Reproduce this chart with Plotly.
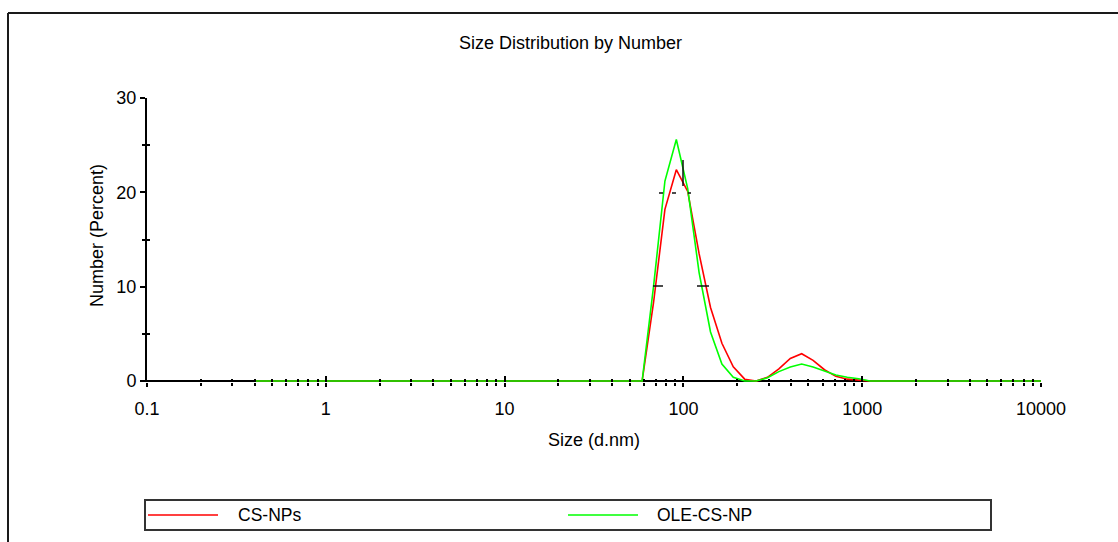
import plotly.graph_objects as go

# Size classes (d.nm) of the number distribution
size_nm = [
    0.4, 0.4632, 0.5365, 0.6213, 0.7195, 0.8332, 0.9649, 1.117, 1.294, 1.499,
    1.736, 2.01, 2.328, 2.696, 3.122, 3.615, 4.187, 4.849, 5.615, 6.503,
    7.531, 8.721, 10.1, 11.7, 13.54, 15.69, 18.17, 21.04, 24.36, 28.21,
    32.67, 37.84, 43.82, 50.75, 58.77, 68.06, 78.82, 91.28, 105.7, 122.4,
    141.8, 164.2, 190.1, 220.2, 255.0, 295.3, 342.0, 396.1, 458.7, 531.2,
    615.1, 712.4, 825.0, 955.4, 1106, 1281, 1484, 1718, 1990, 2305,
    2669, 3091, 3580, 4145, 4801, 5560, 6439, 7456, 8635, 10000,
]

# Number (Percent) per size class
cs_nps = [
    0, 0, 0, 0, 0, 0, 0, 0, 0, 0,
    0, 0, 0, 0, 0, 0, 0, 0, 0, 0,
    0, 0, 0, 0, 0, 0, 0, 0, 0, 0,
    0, 0, 0, 0, 0, 8.3, 18.2, 22.4, 20.1, 13.5,
    7.8, 4.0, 1.5, 0.2, 0.0, 0.4, 1.3, 2.4, 2.9, 2.2,
    1.2, 0.5, 0.2, 0.1, 0, 0, 0, 0, 0, 0,
    0, 0, 0, 0, 0, 0, 0, 0, 0, 0,
]
ole_cs_np = [
    0, 0, 0, 0, 0, 0, 0, 0, 0, 0,
    0, 0, 0, 0, 0, 0, 0, 0, 0, 0,
    0, 0, 0, 0, 0, 0, 0, 0, 0, 0,
    0, 0, 0, 0, 0, 10.0, 21.2, 25.6, 20.4, 11.5,
    5.2, 1.8, 0.4, 0.0, 0.0, 0.35, 1.0, 1.5, 1.8, 1.5,
    1.05, 0.65, 0.4, 0.25, 0, 0, 0, 0, 0, 0,
    0, 0, 0, 0, 0, 0, 0, 0, 0, 0,
]

series_names = ["CS-NPs", "OLE-CS-NP"]
series_colors = ["#ff0000", "#00ff00"]

x_tick_vals = [0.1, 1, 10, 100, 1000, 10000]
x_tick_text = ["0.1", "1", "10", "100", "1000", "10000"]
x_minor_vals = [m * d for d in (0.1, 1, 10, 100, 1000) for m in range(2, 10)]
y_tick_vals = [0, 10, 20, 30]
y_minor_vals = [5, 15, 25]

W, H = 1118, 542
L, R, T, B = 147, 1041, 98, 382
FONT = "Liberation Sans, Arial, sans-serif"


def px(x):
    return (x - L) / (R - L)


def py(y):
    return (B - y) / (B - T)


fig = go.Figure()
for name, color, vals in zip(series_names, series_colors, [cs_nps, ole_cs_np]):
    fig.add_trace(go.Scatter(
        x=size_nm, y=vals, mode="lines", name=name,
        line=dict(color=color, width=1.6), showlegend=False,
    ))
# helper trace so the overlay axes (inner tick halves) get drawn
fig.add_trace(go.Scatter(x=[], y=[], xaxis="x2", yaxis="y2",
                         showlegend=False, hoverinfo="skip"))

tick_common = dict(tickcolor="black", tickwidth=1.5)

fig.update_layout(
    width=W, height=H,
    margin=dict(l=L, r=W - R, t=T, b=H - B, pad=0),
    paper_bgcolor="white", plot_bgcolor="white",
    font=dict(family=FONT, size=18, color="black"),
    showlegend=False,
    xaxis=dict(
        type="log", range=[-1, 4], showgrid=False, zeroline=False, showline=False,
        tickmode="array", tickvals=x_tick_vals, ticktext=x_tick_text,
        ticks="outside", ticklen=4, ticklabelstandoff=6,
        tickfont=dict(family=FONT, size=18, color="black"),
        minor=dict(tickmode="array", tickvals=x_minor_vals, ticks="outside",
                   ticklen=3, showgrid=False, **tick_common),
        **tick_common,
    ),
    xaxis2=dict(
        type="log", range=[-1, 4], overlaying="x", anchor="y", side="bottom",
        showgrid=False, zeroline=False, showline=False, showticklabels=False,
        tickmode="array", tickvals=x_tick_vals, ticks="inside", ticklen=6,
        minor=dict(tickmode="array", tickvals=x_minor_vals, ticks="inside",
                   ticklen=3, showgrid=False, **tick_common),
        **tick_common,
    ),
    yaxis=dict(
        range=[-0.1, 30], showgrid=False, showline=True, linecolor="black",
        linewidth=2, zeroline=True, zerolinecolor="black", zerolinewidth=2,
        tickmode="array", tickvals=y_tick_vals, ticks="outside", ticklen=5,
        tickfont=dict(family=FONT, size=18, color="black"),
        minor=dict(tickmode="array", tickvals=y_minor_vals, ticks="outside",
                   ticklen=3, showgrid=False, **tick_common),
        **tick_common,
    ),
    yaxis2=dict(
        range=[-0.1, 30], overlaying="y", anchor="x", side="left",
        showgrid=False, zeroline=False, showline=False, showticklabels=False,
        tickmode="array", tickvals=y_minor_vals, ticks="inside", ticklen=3,
        **tick_common,
    ),
)

annotations = [
    dict(text="Size Distribution by Number", x=px(570), y=py(43)),
    dict(text="Size (d.nm)", x=px(594), y=py(440)),
    dict(text="Number (Percent)", x=px(97), y=py(236), textangle=-90),
]
for a in annotations:
    fig.add_annotation(xref="paper", yref="paper", xanchor="center",
                       yanchor="middle", showarrow=False,
                       font=dict(family=FONT, size=18, color="black"), **a)

# legend panel
legend_y = 515
legend_items = [(148, 218, 236), (568, 638, 655)]
shapes = [
    # outer frame (top and left edges)
    dict(type="line", x0=px(8), x1=px(1125), y0=py(13), y1=py(13),
         line=dict(color="#1a1a1a", width=2)),
    dict(type="line", x0=px(8), x1=px(8), y0=py(13), y1=py(560),
         line=dict(color="#1a1a1a", width=2)),
    dict(type="rect", x0=px(145), x1=px(991), y0=py(530), y1=py(500),
         line=dict(color="#333333", width=2), fillcolor="white"),
]
for (x0, x1, tx), name, color in zip(legend_items, series_names, series_colors):
    shapes.append(dict(type="line", x0=px(x0), x1=px(x1),
                       y0=py(legend_y), y1=py(legend_y),
                       line=dict(color=color, width=1.6)))
    fig.add_annotation(xref="paper", yref="paper", x=px(tx), y=py(legend_y),
                       xanchor="left", yanchor="middle", showarrow=False,
                       text=name, font=dict(family=FONT, size=17.5, color="black"))

# small black cursor dashes drawn over the main peak
cursor_marks = [
    (659, 663, 193, 193), (672, 676, 193, 193), (688, 691, 193, 193),
    (653, 663, 286, 286), (697, 709, 286, 286), (683, 683, 160, 186),
]
for x0, x1, y0, y1 in cursor_marks:
    shapes.append(dict(type="line", x0=px(x0), x1=px(x1), y0=py(y0), y1=py(y1),
                       line=dict(color="#111111", width=1.5)))

for s in shapes:
    s.update(xref="paper", yref="paper")
fig.update_layout(shapes=shapes)

fig.write_html("out.html")
